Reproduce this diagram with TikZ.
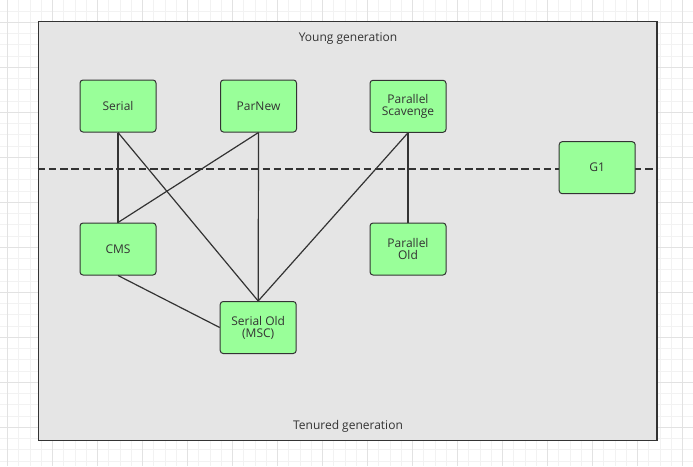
\documentclass[tikz,border=0pt]{standalone}
\usepackage{fontspec}
\setmainfont{Open Sans}
\definecolor{grn}{HTML}{99FF99}
\definecolor{framegray}{HTML}{E5E5E5}
\definecolor{edgec}{HTML}{333333}
\definecolor{gridminor}{HTML}{F2F2F2}
\definecolor{gridmajor}{HTML}{E2E2E2}
\begin{document}
\begin{tikzpicture}[x=1pt,y=-1pt,
  box/.style={draw=edgec, fill=grn, rounded corners=3pt, minimum width=76pt, minimum height=52pt,
    line width=1pt, align=center, font=\fontsize{12}{12}\selectfont, text=edgec, inner sep=0pt},
  conn/.style={draw=edgec, line width=1.2pt},
  gminor/.style={draw=gridminor, line width=0.8pt},
  gmajor/.style={draw=gridmajor, line width=0.8pt},
  lbl/.style={font=\fontsize{12}{12}\selectfont, text=edgec, inner sep=0pt}]
\useasboundingbox (0,0) rectangle (693,466);
\fill[white] (0,0) rectangle (693,466);
% grid
\foreach \i in {0,...,61} {\draw[gminor] (7.6+11.25*\i,0) -- (7.6+11.25*\i,466);}
\foreach \i in {0,...,41} {\draw[gminor] (0,-0.2+11.25*\i) -- (693,-0.2+11.25*\i);}
\foreach \i in {0,...,15} {\draw[gmajor] (7.6+45*\i,0) -- (7.6+45*\i,466);}
\foreach \i in {0,...,10} {\draw[gmajor] (0,22.3+45*\i) -- (693,22.3+45*\i);}
% frame
\node[draw=edgec, fill=framegray, line width=1.2pt, minimum width=618.7pt, minimum height=419.2pt, inner sep=0pt] (frame) at (347.65,230.9) {};
\node[lbl] (young) at (348,38.5) {Young generation};
\node[lbl] (tenured) at (348,426) {Tenured generation};
% dashed separator
\coordinate (dl) at (frame.west |- 0,169);
\coordinate (dr) at (frame.east |- 0,169);
\draw[draw=edgec, line width=1.2pt, dash pattern=on 7.5pt off 3.75pt] (dl) -- (dr);
% nodes
\node[box] (serial) at (118,106) {Serial};
\node[box] (parnew) at (258.5,106) {ParNew};
\node[box] (ps) at (408,106.3) {Parallel\\Scavenge};
\node[box] (g1) at (597.2,167.7) {G1};
\node[box] (cms) at (118,249) {CMS};
\node[box] (po) at (408,249) {Parallel\\Old};
\node[box] (so) at (258.2,327.5) {Serial Old\\(MSC)};
% connectors
\draw[conn] (serial.south) -- (cms.north);
\draw[conn] (serial.south) -- (so.north);
\draw[conn] (parnew.south) -- (cms.north);
\draw[conn] (parnew.south) -- (so.north);
\draw[conn] (ps.south) -- (so.north);
\draw[conn] (ps.south) -- (po.north);
\draw[conn] (cms.south) -- (so.west);
\end{tikzpicture}
\end{document}
